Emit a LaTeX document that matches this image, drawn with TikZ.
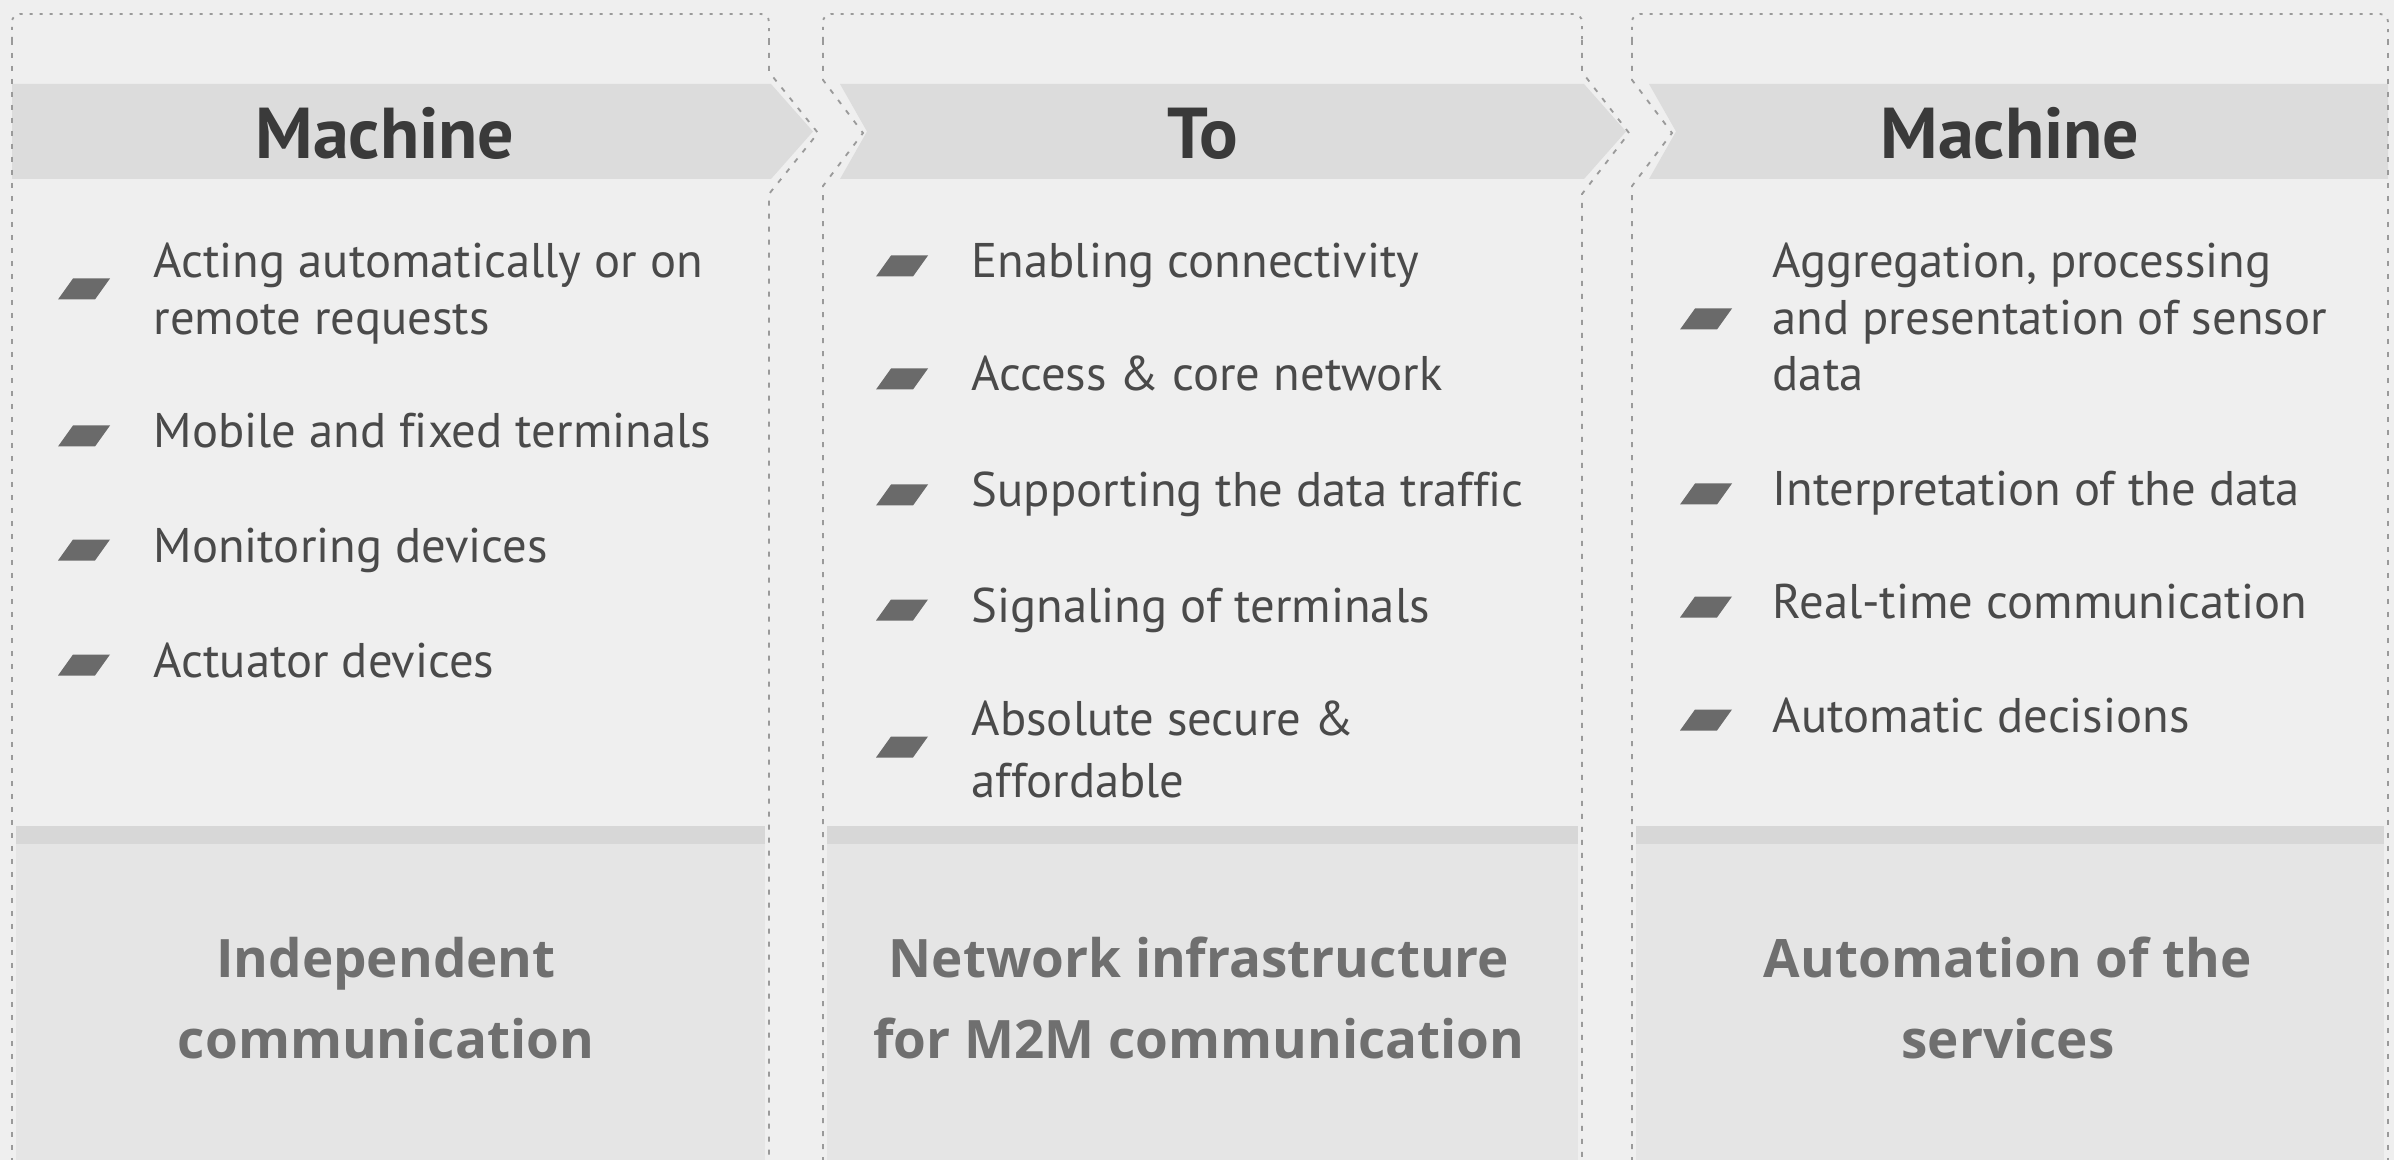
\documentclass[tikz,border=0pt]{standalone}
\usepackage{fontspec}
\setmainfont{PT Sans}[Ligatures=NoCommon]
\newfontfamily\footfam{Open Sans}
\definecolor{bgcol}{HTML}{EFEFEF}
\definecolor{bandcol}{HTML}{DCDCDC}
\definecolor{stripcol}{HTML}{D7D7D7}
\definecolor{footbg}{HTML}{E5E5E5}
\definecolor{dashcol}{HTML}{9A9A9A}
\definecolor{headtxt}{HTML}{3A3A3A}
\definecolor{itemtxt}{HTML}{4A4A4A}
\definecolor{foottxt}{HTML}{6F6F6F}
\definecolor{bulcol}{HTML}{6A6A6A}
\begin{document}
\begin{tikzpicture}[x=0.3pt,y=0.3pt,
  itemtext/.style={anchor=base west,inner sep=0pt,text=itemtxt,font=\fontsize{14.6}{17}\selectfont},
  headtext/.style={anchor=base,inner sep=0pt,text=headtxt,font=\fontsize{21.6}{26}\selectfont\bfseries},
  foottext/.style={anchor=base,inner sep=0pt,text=foottxt,font=\footfam\fontsize{15.9}{19}\selectfont\bfseries},
  sideline/.style={draw=dashcol,line width=0.55pt,dash pattern=on 1.5pt off 2.4pt},
  topline/.style={draw=dashcol,line width=0.55pt,dash pattern=on 0.9pt off 2.1pt,rounded corners=2.4pt},
  bandfill/.style={fill=bandcol},
  stripfill/.style={fill=stripcol},
  footfill/.style={fill=footbg},
  bulletmark/.pic={\fill[bulcol] (-26,-10.5) -- (11,-10.5) -- (26,10.5) -- (-11,10.5) -- cycle;}
]
\useasboundingbox (0,0) rectangle (2394,-1160);
\fill[bgcol] (0,0) rectangle (2394,-1160);

% bottom areas
\fill[footfill] (16,-844) rectangle (765,-1160);
\fill[stripfill] (16,-826) rectangle (765,-844);
\fill[footfill] (827,-844) rectangle (1578,-1160);
\fill[stripfill] (827,-826) rectangle (1578,-844);
\fill[footfill] (1636,-844) rectangle (2384,-1160);
\fill[stripfill] (1636,-826) rectangle (2384,-844);

% header bands
\fill[bandfill] (12,-84) -- (771,-84) -- (813,-131.5) -- (771,-179) -- (12,-179) -- cycle;
\fill[bandfill] (840,-84) -- (1584,-84) -- (1626,-131.5) -- (1584,-179) -- (840,-179) -- (867,-131.5) -- cycle;
\fill[bandfill] (1649,-84) -- (2388,-84) -- (2388,-179) -- (1649,-179) -- (1676,-131.5) -- cycle;

% panel outlines
\draw[topline] (12,-40) -- (12,-14) -- (769,-14) -- (769,-40);
\draw[sideline] (12,-40) -- (12,-1160);
\draw[sideline] (769,-40) -- (769,-72) -- (818,-133) -- (769,-194) -- (769,-1160);
\draw[topline] (823,-40) -- (823,-14) -- (1582,-14) -- (1582,-40);
\draw[sideline] (823,-40) -- (823,-80) -- (863,-133) -- (823,-186) -- (823,-1160);
\draw[sideline] (1582,-40) -- (1582,-72) -- (1629,-133) -- (1582,-194) -- (1582,-1160);
\draw[topline] (1632,-40) -- (1632,-14) -- (2388,-14) -- (2388,-40);
\draw[sideline] (1632,-40) -- (1632,-80) -- (1672,-133) -- (1632,-186) -- (1632,-1160);
\draw[sideline] (2388,-40) -- (2388,-1160);

% headers
\node[headtext] (h1) at (385,-159) {Machine};
\node[headtext] (h2) at (1203,-159) {To};
\node[headtext] (h3) at (2010,-159) {Machine};

% panel 1 items
\pic at (84,-289) {bulletmark};
\node[itemtext] (a1) at (153,-278) {Acting automatically or on};
\node[itemtext] (a1b) at (153,-335) {remote requests};
\pic at (84,-436) {bulletmark};
\node[itemtext] (a2) at (153,-448) {Mobile and fixed terminals};
\pic at (84,-550) {bulletmark};
\node[itemtext] (a3) at (153,-562) {Monitoring devices};
\pic at (84,-665) {bulletmark};
\node[itemtext] (a4) at (153,-677) {Actuator devices};

% panel 2 items
\pic at (902,-266) {bulletmark};
\node[itemtext] (b1) at (971,-278) {Enabling connectivity};
\pic at (902,-379) {bulletmark};
\node[itemtext] (b2) at (971,-391) {Access \& core network};
\pic at (902,-495) {bulletmark};
\node[itemtext] (b3) at (971,-507) {Supporting the data traffic};
\pic at (902,-610) {bulletmark};
\node[itemtext] (b4) at (971,-622) {Signaling of terminals};
\pic at (902,-747) {bulletmark};
\node[itemtext] (b5) at (971,-735) {Absolute secure \&};
\node[itemtext] (b5b) at (971,-797) {affordable};

% panel 3 items
\pic at (1706,-319) {bulletmark};
\node[itemtext] (c1) at (1772,-278) {Aggregation, processing};
\node[itemtext] (c1b) at (1772,-335) {and presentation of sensor};
\node[itemtext] (c1c) at (1772,-391) {data};
\pic at (1706,-494) {bulletmark};
\node[itemtext] (c2) at (1772,-506) {Interpretation of the data};
\pic at (1706,-607) {bulletmark};
\node[itemtext] (c3) at (1772,-619) {Real-time communication};
\pic at (1706,-720) {bulletmark};
\node[itemtext] (c4) at (1772,-732) {Automatic decisions};

% footers
\node[foottext] (f1) at (386,-977) {Independent};
\node[foottext] (f1b) at (386,-1058) {communication};
\node[foottext] (f2) at (1199,-977) {Network infrastructure};
\node[foottext] (f2b) at (1199,-1058) {for M2M communication};
\node[foottext] (f3) at (2008,-977) {Automation of the};
\node[foottext] (f3b) at (2008,-1058) {services};
\end{tikzpicture}
\end{document}
